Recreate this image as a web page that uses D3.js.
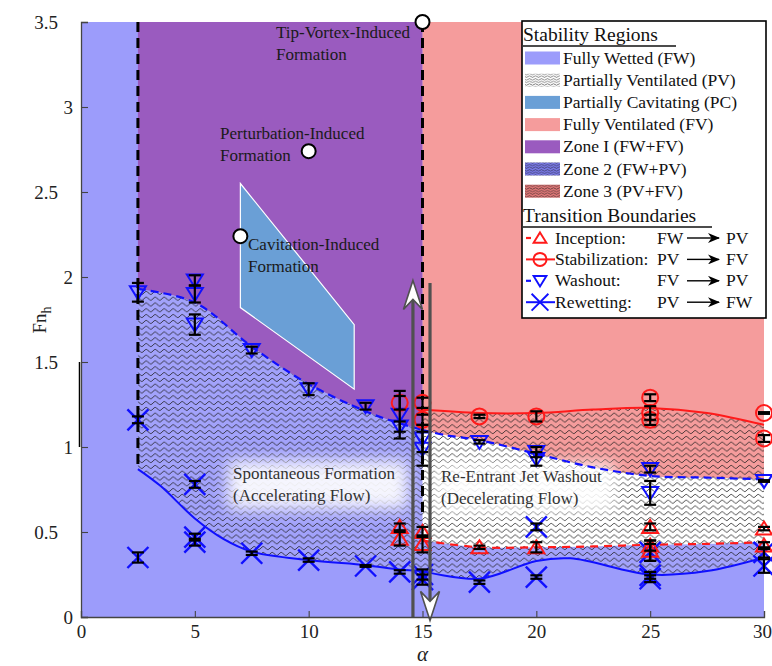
<!DOCTYPE html>
<html>
<head>
<meta charset="utf-8">
<script src="https://cdn.jsdelivr.net/npm/d3@7"></script>
<style>
  body { margin: 0; background: #fff; }
  svg { display: block; }
  text { font-family: "Liberation Serif", "Times New Roman", serif; }
</style>
</head>
<body>
<svg id="chart" width="772" height="666"></svg>
<script>
// ---- axis ticks ----
const xTicks = [0, 5, 10, 15, 20, 25, 30];
const yTicks = [0, 0.5, 1, 1.5, 2, 2.5, 3, 3.5];

// ---- transition boundary curves [alpha, Fn_h] ----
const washoutLeft  = [[2.5,1.93],[5,1.85],[7.5,1.59],[10,1.37],[12.5,1.21],[13.5,1.16],[15,1.1]];
const washoutRight = [[15,1.1],[16,1.07],[17.5,1.04],[20,0.96],[22.5,0.88],[25,0.83],[27.5,0.82],[30,0.81]];
const rewetLeft    = [[2.5,0.87],[3.5,0.77],[5,0.58],[6.25,0.46],[7.5,0.385],[10,0.335],[12.5,0.305],[14,0.28],[15,0.27]];
const rewetRight   = [[15,0.27],[17.5,0.225],[20,0.33],[21.5,0.345],[25,0.25],[27.5,0.27],[30,0.35]];
const stabCurve    = [[15,1.22],[17.5,1.2],[20,1.2],[22.5,1.22],[25,1.23],[27.5,1.2],[30,1.13]];
const inceptCurve  = [[15,0.45],[17.5,0.41],[20,0.41],[22.5,0.415],[25,0.425],[27.5,0.43],[30,0.44]];
const pcRegion     = [[7,2.55],[12,1.72],[12,1.34],[7,1.82]];

// ---- measured transition points ----
const washoutX   = [2.5, 5, 5, 5, 7.5, 10, 12.5, 14, 14, 15, 15, 17.5, 20, 20, 25, 25, 30];
const washoutY   = [1.91, 1.98, 1.9, 1.72, 1.57, 1.34, 1.24, 1.19, 1.12, 1.05, 0.99, 1.03, 0.97, 0.93, 0.87, 0.73, 0.8];
const washoutErr = [0.055, 0.03, 0.05, 0.06, 0.02, 0.035, 0.02, 0.14, 0.03, 0.08, 0.1, 0.01, 0.03, 0.04, 0.02, 0.07, 0.005];

const rewetX   = [2.5, 2.5, 5, 5, 5, 7.5, 10, 12.5, 14, 15, 15, 17.5, 20, 20, 25, 25, 25, 30, 30];
const rewetY   = [1.16, 0.35, 0.78, 0.47, 0.44, 0.375, 0.335, 0.3, 0.265, 0.25, 0.22, 0.205, 0.53, 0.235, 0.38, 0.245, 0.225, 0.38, 0.3];
const rewetErr = [0.02, 0.03, 0.02, 0.02, 0.02, 0.01, 0.01, 0.005, 0.01, 0.03, 0.03, 0.01, 0.02, 0.01, 0.05, 0.02, 0.02, 0.03, 0.04];

const inceptX   = [14, 14, 15, 15, 17.5, 20, 25, 25, 25, 30, 30];
const inceptY   = [0.53, 0.46, 0.5, 0.43, 0.41, 0.41, 0.53, 0.42, 0.39, 0.52, 0.42];
const inceptErr = [0.02, 0.04, 0.03, 0.05, 0.01, 0.03, 0.02, 0.03, 0.06, 0.01, 0.02];

const stabX   = [14, 15, 15, 17.5, 20, 25, 25, 25, 30, 30];
const stabY   = [1.26, 1.26, 1.16, 1.18, 1.18, 1.29, 1.2, 1.16, 1.2, 1.05];
const stabErr = [0.04, 0.03, 0.03, 0.01, 0.03, 0.02, 0.04, 0.03, 0.005, 0.02];

// formation mechanism markers
const formationX = [15, 10, 7];
const formationY = [3.5, 2.74, 2.24];

// legend entries
const regionLabels = ["Fully Wetted (FW)", "Partially Ventilated (PV)", "Partially Cavitating (PC)",
  "Fully Ventilated (FV)", "Zone I (FW+FV)", "Zone 2 (FW+PV)", "Zone 3 (PV+FV)"];
const boundaryLabels = ["Inception:", "Stabilization:", "Washout:", "Rewetting:"];
const boundaryFrom = ["FW", "PV", "FV", "PV"];
const boundaryTo   = ["PV", "FV", "PV", "FW"];

// ---- colours ----
const C = {
  fw: "#9c9cfb", zone1: "#9a5bbf", fv: "#f59c9c", pc: "#6a9fd6",
  blue: "#1010ff", red: "#ff1a1a", arrow: "#505050"
};

const svg = d3.select("#chart");
const x = d3.scaleLinear().domain([0, 30]).range([81, 764]);
const y = d3.scaleLinear().domain([0, 3.5]).range([617, 22]);

const defs = svg.append("defs");
function wavePattern(id, bg, w, h, amp, sw) {
  const p = defs.append("pattern").attr("id", id)
    .attr("patternUnits", "userSpaceOnUse").attr("width", w).attr("height", h);
  p.append("rect").attr("width", w).attr("height", h).attr("fill", bg);
  const m = h / 2;
  p.append("path")
    .attr("d", `M0 ${m} Q${w/4} ${m - 2*amp} ${w/2} ${m} T${w} ${m}`)
    .attr("fill", "none").attr("stroke", "#1a1a1a").attr("stroke-width", sw);
}
wavePattern("wBlue", "#a2a2fb", 9, 5.8, 1.5, 0.8);
wavePattern("wWhite", "#fff", 9, 5.8, 1.5, 0.8);
wavePattern("wPink", C.fv, 9, 5.8, 1.5, 0.8);
wavePattern("lBlue", "#7a7ae8", 6, 2.6, 0.7, 0.55);
wavePattern("lWhite", "#fff", 6, 2.6, 0.7, 0.55);
wavePattern("lPink", "#e07878", 6, 2.6, 0.7, 0.55);

const haze = defs.append("filter").attr("id", "haze")
  .attr("x", "-30%").attr("y", "-60%").attr("width", "160%").attr("height", "220%");
haze.append("feGaussianBlur").attr("stdDeviation", 8);

const line = d3.line().x(d => x(d[0])).y(d => y(d[1])).curve(d3.curveCatmullRom.alpha(0.5));
function band(upper, lower) {
  return line(upper) + line(lower.slice().reverse()).replace(/^M/, "L") + "Z";
}
function toTop(curve) {
  const a = curve[0][0], b = curve[curve.length - 1][0];
  return line(curve) + `L${x(b)},${y(3.5)}L${x(a)},${y(3.5)}Z`;
}

// ---- stability regions ----
const g = svg.append("g");
g.append("rect").attr("x", x(0)).attr("y", y(3.5))
  .attr("width", x(30) - x(0)).attr("height", y(0) - y(3.5)).attr("fill", C.fw);
g.append("path").attr("d", toTop(washoutLeft)).attr("fill", C.zone1);
g.append("path").attr("d", toTop(stabCurve)).attr("fill", C.fv);
g.append("path").attr("d", band(washoutLeft, rewetLeft)).attr("fill", "url(#wBlue)");
g.append("path").attr("d", band(inceptCurve, rewetRight)).attr("fill", "url(#wBlue)");
g.append("path").attr("d", band(washoutRight, inceptCurve)).attr("fill", "url(#wWhite)");
g.append("path").attr("d", band(stabCurve, washoutRight)).attr("fill", "url(#wPink)");
g.append("path")
  .attr("d", d3.line().x(d => x(d[0])).y(d => y(d[1]))(pcRegion) + "Z")
  .attr("fill", C.pc).attr("stroke", "#fff").attr("stroke-width", 1.2);

// white haze behind flow annotations
g.append("rect").attr("x", 228).attr("y", 461).attr("width", 180).attr("height", 48)
  .attr("fill", "#fff").attr("opacity", 0.9).attr("filter", "url(#haze)");
g.append("rect").attr("x", 436).attr("y", 464).attr("width", 178).attr("height", 48)
  .attr("fill", "#fff").attr("opacity", 0.9).attr("filter", "url(#haze)");

// ---- vertical zone boundaries ----
g.append("line").attr("x1", x(2.5)).attr("x2", x(2.5)).attr("y1", y(3.5)).attr("y2", y(0.87))
  .attr("stroke", "#000").attr("stroke-width", 3).attr("stroke-dasharray", "10,6");
g.append("line").attr("x1", x(15)).attr("x2", x(15)).attr("y1", y(3.5)).attr("y2", y(0.6))
  .attr("stroke", "#000").attr("stroke-width", 3).attr("stroke-dasharray", "10,6");

// ---- boundary curves ----
g.append("path").attr("d", line(rewetLeft)).attr("fill", "none").attr("stroke", C.blue).attr("stroke-width", 2);
g.append("path").attr("d", line(rewetRight)).attr("fill", "none").attr("stroke", C.blue).attr("stroke-width", 2);
g.append("path").attr("d", line(stabCurve)).attr("fill", "none").attr("stroke", C.red).attr("stroke-width", 2);
g.append("path").attr("d", line(inceptCurve)).attr("fill", "none").attr("stroke", C.red)
  .attr("stroke-width", 2.2).attr("stroke-dasharray", "8,6");
[washoutLeft, washoutRight].forEach(c => g.append("path").attr("d", line(c)).attr("fill", "none")
  .attr("stroke", C.blue).attr("stroke-width", 2.2).attr("stroke-dasharray", "8,5"));

// ---- markers ----
const markerPaths = {
  up: "M0,-7L8,6L-8,6Z",
  down: "M-8,-6L8,-6L0,7Z",
  cross: "M-10.5,-10.5L10.5,10.5M-10.5,10.5L10.5,-10.5"
};
function zip(xs, ys, es) { return xs.map((v, i) => ({ x: v, y: ys[i], e: es[i] })); }
function drawMarkers(data, type, color) {
  const mg = g.append("g");
  data.forEach(d => {
    if (type === "circle") {
      mg.append("circle").attr("cx", x(d.x)).attr("cy", y(d.y)).attr("r", 8)
        .attr("fill", "none").attr("stroke", color).attr("stroke-width", 2);
    } else {
      mg.append("path").attr("d", markerPaths[type])
        .attr("transform", `translate(${x(d.x)},${y(d.y)})`)
        .attr("fill", "none").attr("stroke", color).attr("stroke-width", type === "cross" ? 2.4 : 2);
    }
  });
}
function drawErrors(data) {
  const eg = g.append("g").attr("stroke", "#000").attr("stroke-width", 2.2);
  data.forEach(d => {
    const cx = x(d.x), y0 = y(d.y - d.e), y1 = y(d.y + d.e);
    eg.append("line").attr("x1", cx).attr("x2", cx).attr("y1", y0).attr("y2", y1);
    eg.append("line").attr("x1", cx - 6).attr("x2", cx + 6).attr("y1", y0).attr("y2", y0);
    eg.append("line").attr("x1", cx - 6).attr("x2", cx + 6).attr("y1", y1).attr("y2", y1);
  });
}
const washoutPts = zip(washoutX, washoutY, washoutErr);
const rewetPts = zip(rewetX, rewetY, rewetErr);
const inceptPts = zip(inceptX, inceptY, inceptErr);
const stabPts = zip(stabX, stabY, stabErr);
drawMarkers(rewetPts, "cross", C.blue);
drawMarkers(washoutPts, "down", C.blue);
drawMarkers(inceptPts, "up", C.red);
drawMarkers(stabPts, "circle", C.red);
[rewetPts, washoutPts, inceptPts, stabPts].forEach(drawErrors);

// ---- formation mechanism markers ----
formationX.forEach((v, i) => g.append("circle").attr("cx", x(v)).attr("cy", y(formationY[i])).attr("r", 7)
  .attr("fill", "#fff").attr("stroke", "#000").attr("stroke-width", 2));

// ---- acceleration / deceleration arrows ----
function flowArrow(xv, yFrom, yTo) {
  const s = yTo > yFrom ? -1 : 1; // +1 => head points downward on screen
  const tipY = y(yTo);
  g.append("line").attr("x1", x(xv)).attr("x2", x(xv)).attr("y1", y(yFrom)).attr("y2", tipY - s * 18)
    .attr("stroke", C.arrow).attr("stroke-width", 3.2);
  g.append("path")
    .attr("d", `M0,0L${9.5},${-s*29}L0,${-s*19}L${-9.5},${-s*29}Z`)
    .attr("transform", `translate(${x(xv)},${tipY})`)
    .attr("fill", "#fff").attr("stroke", C.arrow).attr("stroke-width", 1.6).attr("stroke-linejoin", "miter");
}
flowArrow(14.58, 0, 1.98);
flowArrow(15.33, 1.965, -0.02);

// ---- axes ----
const xAxis = svg.append("g").attr("transform", `translate(0,${y(0)})`)
  .call(d3.axisBottom(x).tickValues(xTicks).tickSize(-6).tickPadding(8).tickFormat(d3.format("d")));
const yAxis = svg.append("g").attr("transform", `translate(${x(0)},0)`)
  .call(d3.axisLeft(y).tickValues(yTicks).tickSize(-7).tickPadding(8).tickFormat(d => String(d)));
[xAxis, yAxis].forEach(a => {
  a.select(".domain").attr("stroke", "#444").attr("stroke-width", 1.3);
  a.selectAll(".tick line").attr("stroke", "#444").attr("stroke-width", 1.1);
  a.selectAll(".tick text").attr("font-family", "Liberation Serif, serif").attr("font-size", 19).attr("fill", "#222");
});
xAxis.selectAll(".tick text").attr("dx", d => (d === 30 ? -2 : 0));
yAxis.selectAll(".tick text").attr("dx", d => (String(d).includes(".") ? -15 : 0));
svg.append("line").attr("x1", x(0) - 1.5).attr("x2", x(0) - 1.5).attr("y1", y(1)).attr("y2", y(1.5))
  .attr("stroke", "#000").attr("stroke-width", 1.5);

svg.append("text").attr("x", x(15)).attr("y", 661).attr("text-anchor", "middle")
  .attr("font-size", 21).attr("font-style", "italic").attr("fill", "#222").text("α");
const yl = svg.append("text").attr("transform", "translate(46,320) rotate(-90)")
  .attr("text-anchor", "middle").attr("font-size", 19).attr("fill", "#222");
yl.append("tspan").text("Fn");
yl.append("tspan").attr("font-size", 14).attr("dy", 5).text("h");

// ---- annotations ----
function label(lines, px, py, color) {
  const t = svg.append("text").attr("x", px).attr("y", py).attr("font-size", 17).attr("fill", color);
  lines.forEach((s, i) => t.append("tspan").attr("x", px).attr("dy", i ? 22 : 0).text(s));
}
label(["Tip-Vortex-Induced", "Formation"], 276, 38, "#1a1a1a");
label(["Perturbation-Induced", "Formation"], 220, 139, "#1a1a1a");
label(["Cavitation-Induced", "Formation"], 248, 250, "#1a1a1a");
label(["Spontaneous Formation", "(Accelerating Flow)"], 233, 479, "#333");
label(["Re-Entrant Jet Washout", "(Decelerating Flow)"], 441, 482, "#333");

// ---- legend ----
const lg = svg.append("g");
lg.append("rect").attr("x", 522).attr("y", 21).attr("width", 244).attr("height", 297)
  .attr("fill", "#fff").attr("stroke", "#000").attr("stroke-width", 1.6);
lg.append("text").attr("x", 523).attr("y", 41).attr("font-size", 19.5).attr("fill", "#111").text("Stability Regions");
lg.append("line").attr("x1", 523).attr("x2", 676).attr("y1", 46).attr("y2", 46).attr("stroke", "#111").attr("stroke-width", 1.3);
const swatchFill = [C.fw, "url(#lWhite)", C.pc, C.fv, C.zone1, "url(#lBlue)", "url(#lPink)"];
regionLabels.forEach((s, i) => {
  const cy = 58 + i * 22.2;
  lg.append("rect").attr("x", 525).attr("y", cy - 6.5).attr("width", 35).attr("height", 13).attr("fill", swatchFill[i]);
  lg.append("text").attr("x", 563).attr("y", cy + 5.5).attr("font-size", 17.5).attr("fill", "#111").text(s);
});
lg.append("text").attr("x", 523).attr("y", 222).attr("font-size", 19.5).attr("fill", "#111").text("Transition Boundaries");
lg.append("line").attr("x1", 523).attr("x2", 712).attr("y1", 227).attr("y2", 227).attr("stroke", "#111").attr("stroke-width", 1.3);
defs.append("marker").attr("id", "head").attr("viewBox", "0 0 12 10").attr("refX", 11).attr("refY", 5)
  .attr("markerWidth", 12).attr("markerHeight", 10).attr("markerUnits", "userSpaceOnUse").attr("orient", "auto")
  .append("path").attr("d", "M0,0L12,5L0,10L3.5,5Z").attr("fill", "#000");
const legMarker = ["up", "circle", "down", "cross"];
const legColor = [C.red, C.red, C.blue, C.blue];
boundaryLabels.forEach((s, i) => {
  const cy = 238 + i * 21.4;
  if (legMarker[i] === "up" || legMarker[i] === "down") {
    lg.append("line").attr("x1", 526).attr("x2", 531).attr("y1", cy).attr("y2", cy)
      .attr("stroke", legColor[i]).attr("stroke-width", 2.2);
  } else {
    lg.append("line").attr("x1", 526).attr("x2", 555).attr("y1", cy).attr("y2", cy)
      .attr("stroke", legColor[i]).attr("stroke-width", 2);
  }
  if (legMarker[i] === "circle") {
    lg.append("circle").attr("cx", 540).attr("cy", cy).attr("r", 6.5)
      .attr("fill", "none").attr("stroke", legColor[i]).attr("stroke-width", 2);
  } else {
    lg.append("path").attr("d", markerPaths[legMarker[i]])
      .attr("transform", `translate(540,${cy}) scale(0.8)`)
      .attr("fill", legMarker[i] === "cross" ? "none" : "#fff").attr("stroke", legColor[i]).attr("stroke-width", 2.4);
  }
  lg.append("text").attr("x", 555).attr("y", cy + 5.5).attr("font-size", 17.5).attr("fill", "#111").text(s);
  lg.append("text").attr("x", 657).attr("y", cy + 5.5).attr("font-size", 17.5).attr("fill", "#111").text(boundaryFrom[i]);
  lg.append("line").attr("x1", 687).attr("x2", 719).attr("y1", cy).attr("y2", cy)
    .attr("stroke", "#000").attr("stroke-width", 1.4).attr("marker-end", "url(#head)");
  lg.append("text").attr("x", 726).attr("y", cy + 5.5).attr("font-size", 17.5).attr("fill", "#111").text(boundaryTo[i]);
});
</script>
</body>
</html>
